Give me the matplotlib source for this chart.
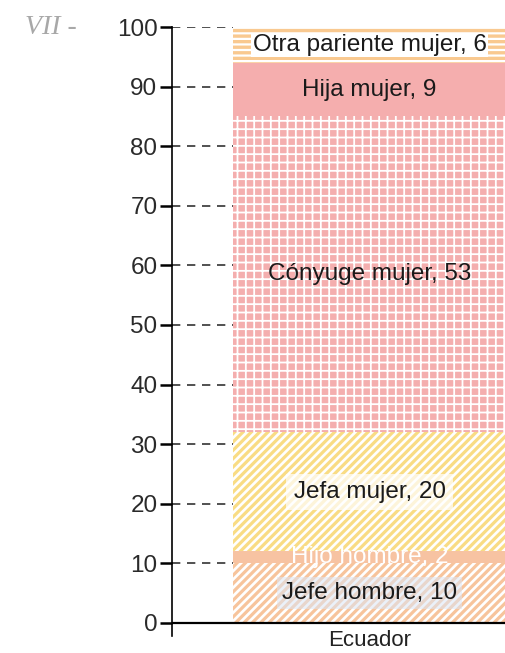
import matplotlib
matplotlib.use("Agg")
import matplotlib.pyplot as plt

# data: stacked shares (%) for Ecuador, bottom to top
country = "Ecuador"
groups = ["Jefe hombre", "Hijo hombre", "Jefa mujer", "Cónyuge mujer", "Hija mujer", "Otra pariente mujer"]
values = [10, 2, 20, 53, 9, 6]
yticks = list(range(0, 101, 10))

# fill style per segment: (facecolor, hatch colour, hatch, hatch width)
styles = [
    ("white", "#F7C49C", "////", 2.3),
    ("#F7C3A2", "#F7C3A2", None, 1.0),
    ("white", "#F9DC84", "////", 2.3),
    ("#F4AEAE", "white", "++", 1.3),
    ("#F5AEAE", "#F5AEAE", None, 1.0),
    ("white", "#F9C990", "---", 2.4),
]

plt.rcParams["font.family"] = ["Liberation Sans", "DejaVu Sans"]

fig = plt.figure(figsize=(5.06, 6.53), dpi=100)
ax = fig.add_axes([172 / 506, 17 / 653, 334 / 506, 609 / 653])

fs = 17.5
bottom = 0
for name, val, (fc, hc, hatch, hw) in zip(groups, values, styles):
    with plt.rc_context({"hatch.linewidth": hw}):
        bars = ax.bar([0], [val], bottom=bottom, width=1.0, facecolor=fc, edgecolor=hc,
                      hatch=hatch, linewidth=0, zorder=2)
    for b in bars:
        if hasattr(b, "set_hatch_linewidth"):
            b.set_hatch_linewidth(hw)
    mid = bottom + val / 2
    txt = f"{name}, {val}"
    kw = dict(ha="center", va="center", fontsize=fs, color="#1a1a1a", zorder=4)
    if name == "Hijo hombre":
        kw["color"] = "white"
    elif name == "Otra pariente mujer":
        kw["bbox"] = dict(boxstyle="square,pad=0.05", fc="white", ec="none")
    elif name == "Jefa mujer":
        kw["bbox"] = dict(boxstyle="square,pad=0.3", fc="white", ec="none", alpha=0.7)
    elif name == "Jefe hombre":
        kw["bbox"] = dict(boxstyle="square,pad=0.2", fc="#DCE6F5", ec="none", alpha=0.55)
    ax.text(0, mid, txt, **kw)
    bottom += val

# dashed guide lines from the axis to the bar
ax.hlines(yticks[1:], -0.724, -0.5, colors="#333333", linestyles=(0, (5, 4)),
          linewidth=1.2, zorder=1)
ax.axhline(0, color="black", linewidth=1.6, zorder=5)

ax.set_xlim(-0.724, 0.5)
ax.set_ylim(-2.2, 100)
ax.set_yticks(yticks)
ax.set_xticks([])
# category label sits just under the baseline
ax.text(0, -3.0, country, fontsize=16, color="#222222", ha="center", va="center",
        clip_on=False)
ax.tick_params(axis="y", direction="out", length=9, width=1.8, pad=1.5,
               labelsize=fs, labelcolor="#2a2a2a")
for s in ["top", "right", "bottom"]:
    ax.spines[s].set_visible(False)
ax.spines["left"].set_linewidth(1.2)
for lab in ax.get_yticklabels():
    lab.set_clip_on(False)

fig.text(25 / 506, 1 - 27 / 653, "VII -", fontsize=20, color="#A8A8A8",
         family="Liberation Serif", style="italic", ha="left", va="center")

fig.savefig("out.png", dpi=100)
